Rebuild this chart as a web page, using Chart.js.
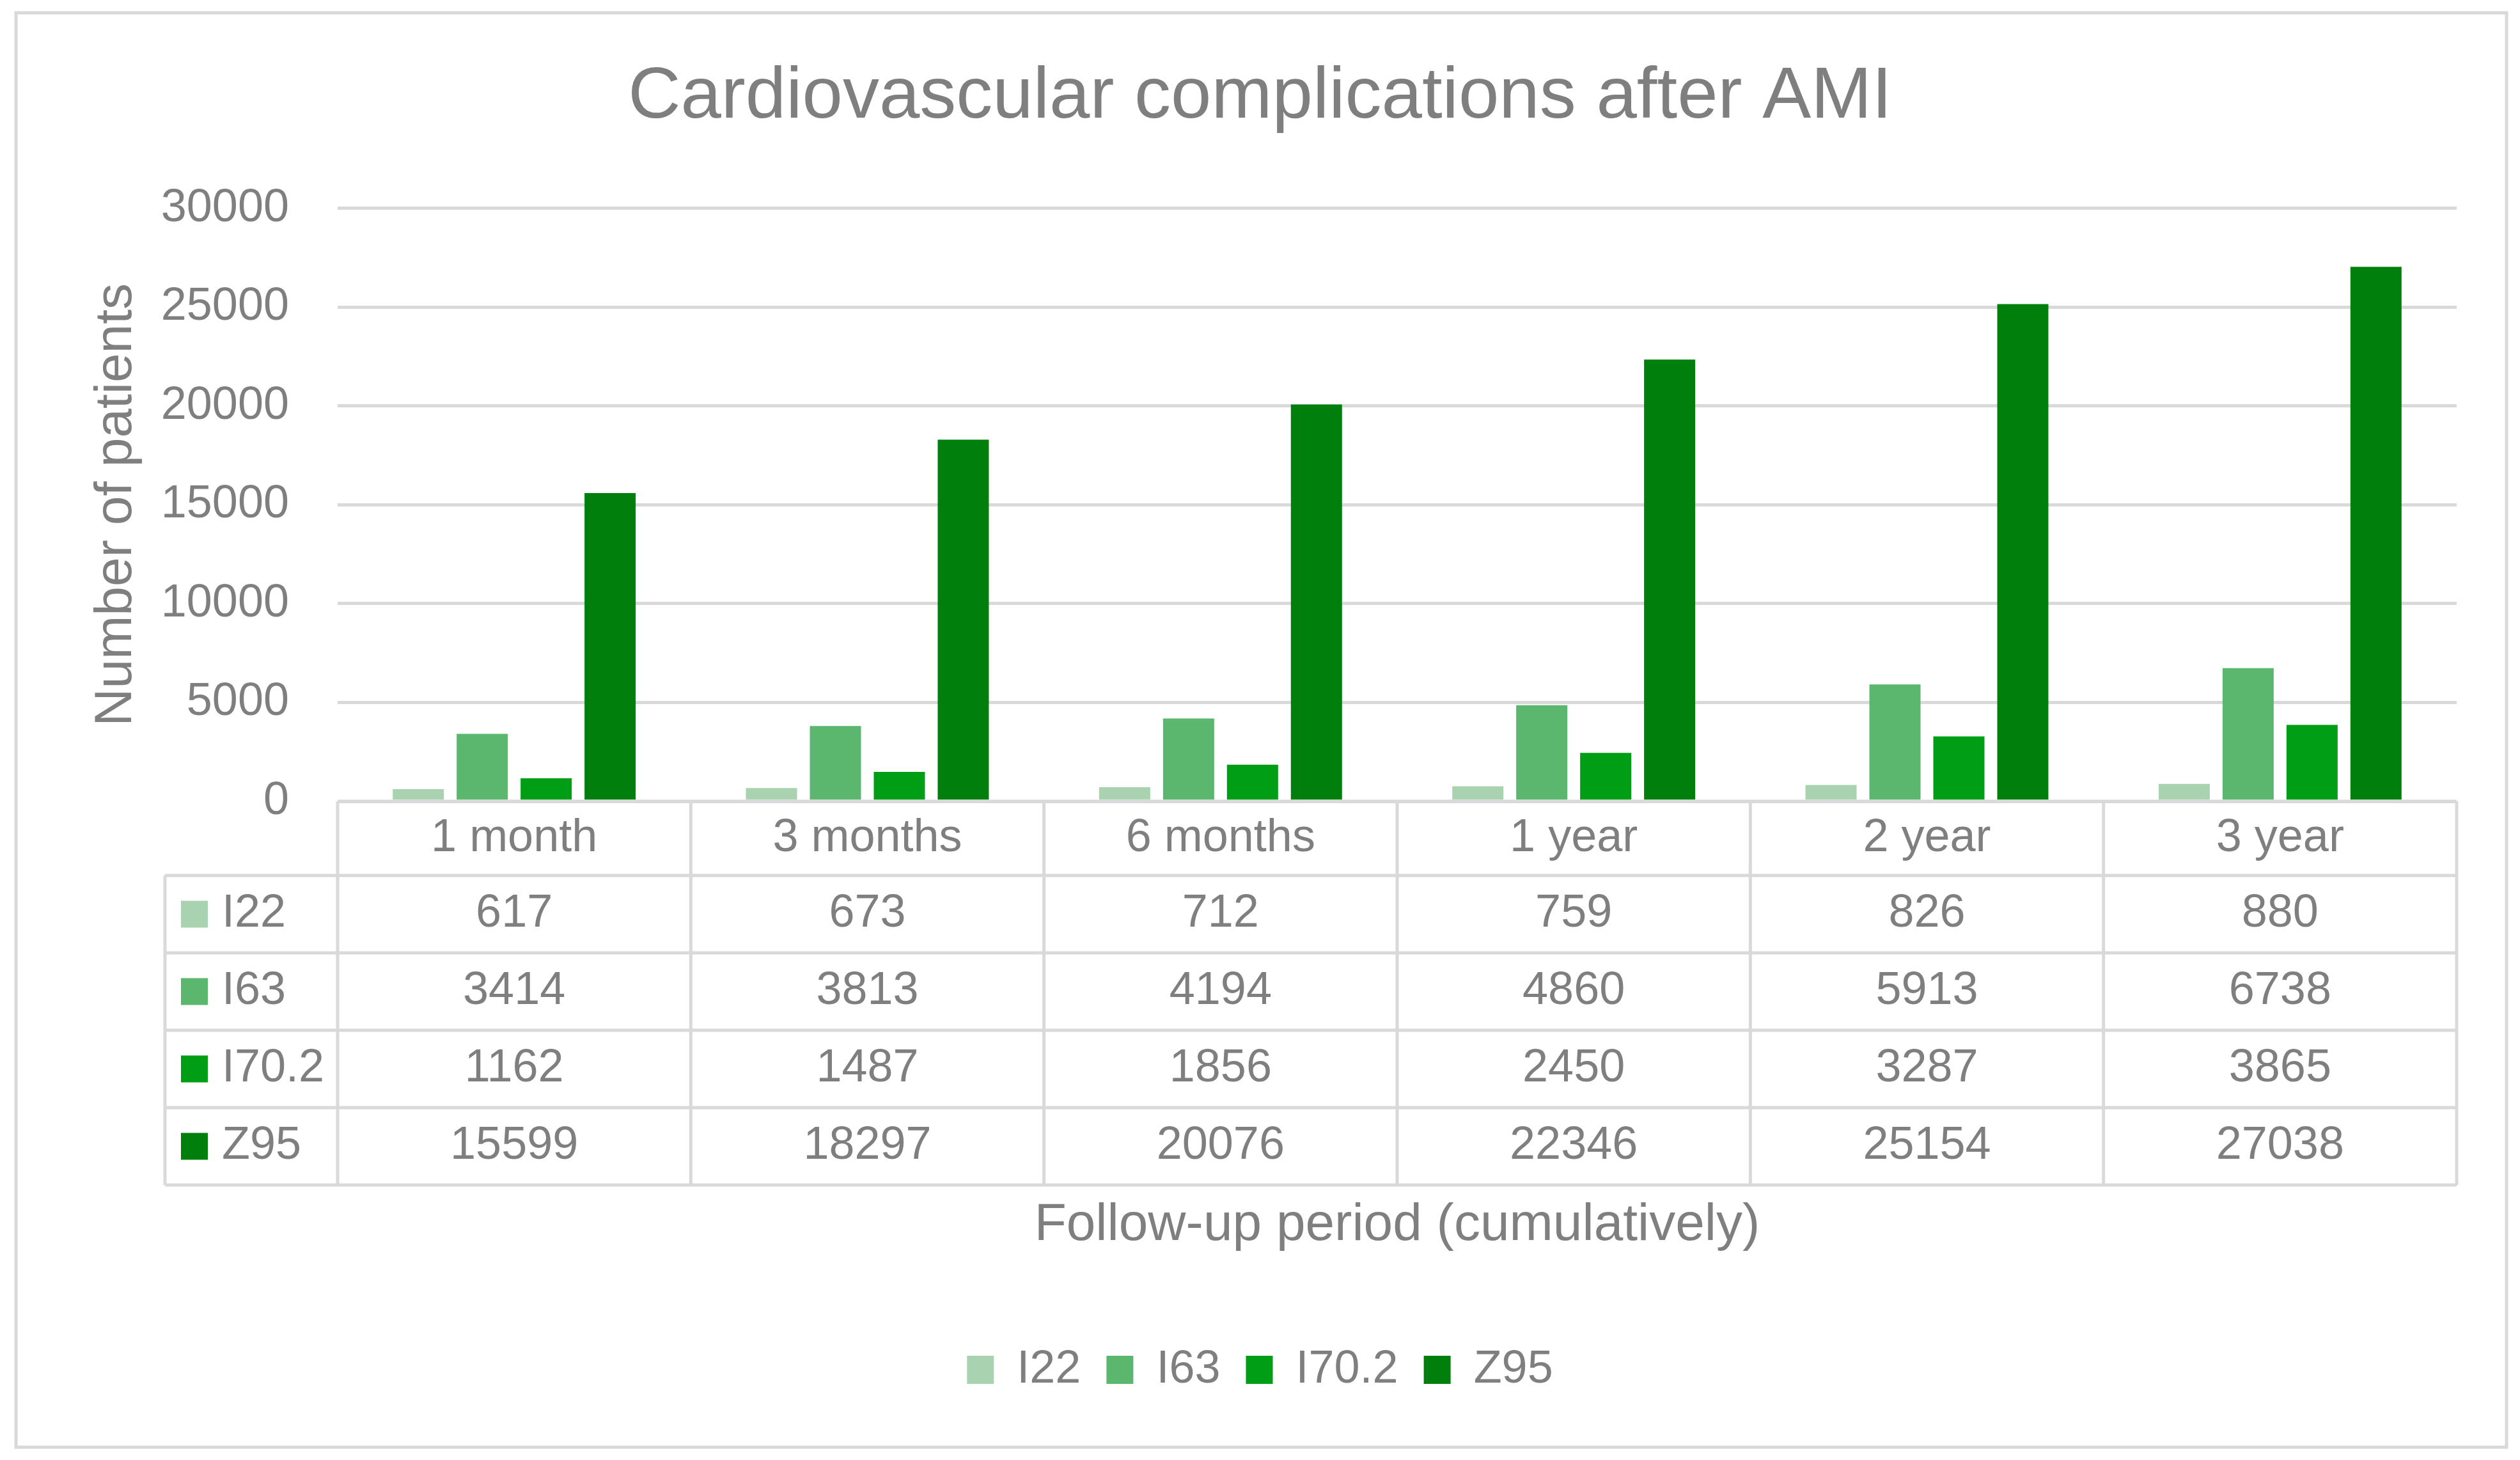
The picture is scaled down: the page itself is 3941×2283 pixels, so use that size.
<!DOCTYPE html>
<html>
<head>
<meta charset="utf-8">
<script src="https://cdn.jsdelivr.net/npm/chart.js@4.4.1/dist/chart.umd.min.js"></script>
<style>
  html, body { margin: 0; padding: 0; background: #fff; }
  #wrap { width: 3941px; height: 2283px; }
</style>
</head>
<body>
<div id="wrap"><canvas id="chart" width="3941" height="2283"></canvas></div>
<script>
const categories = ['1 month', '3 months', '6 months', '1 year', '2 year', '3 year']
const seriesNames = ['I22', 'I63', 'I70.2', 'Z95']
const i22 = [617, 673, 712, 759, 826, 880]
const i63 = [3414, 3813, 4194, 4860, 5913, 6738]
const i702 = [1162, 1487, 1856, 2450, 3287, 3865]
const z95 = [15599, 18297, 20076, 22346, 25154, 27038]
const seriesColors = ['#a9d3b0', '#5cb76e', '#009e15', '#007f0c']

const gray = '#7f7f7f'
const lineGray = '#d9d9d9'
const fontFamily = '"Liberation Sans", Arial, sans-serif'

// table under the plot (rows share the x scale columns)
const tableLeft = 258
const headerH = 116
const rowH = 121

const frame = {
  id: 'frame',
  beforeDraw(chart) {
    const ctx = chart.ctx
    ctx.save()
    ctx.fillStyle = '#fff'
    ctx.fillRect(0, 0, chart.width, chart.height)
    ctx.strokeStyle = lineGray
    ctx.lineWidth = 5
    ctx.strokeRect(25, 20, 3895, 2243)
    ctx.restore()
  }
}

const dataTable = {
  id: 'dataTable',
  afterDraw(chart) {
    const ctx = chart.ctx
    const x = chart.scales.x
    const area = chart.chartArea
    const colW = x.width / categories.length
    const top = area.bottom
    const rowsTop = top + headerH
    const bottom = rowsTop + rowH * seriesNames.length
    ctx.save()
    ctx.strokeStyle = lineGray
    ctx.lineWidth = 5
    ctx.beginPath()
    // horizontal lines
    ctx.moveTo(area.left, top); ctx.lineTo(area.right, top)
    for (let r = 0; r <= seriesNames.length; r++) {
      const y = rowsTop + r * rowH
      ctx.moveTo(tableLeft, y); ctx.lineTo(area.right, y)
    }
    // vertical lines
    ctx.moveTo(tableLeft, rowsTop); ctx.lineTo(tableLeft, bottom)
    for (let c = 0; c <= categories.length; c++) {
      const xx = area.left + c * colW
      ctx.moveTo(xx, top); ctx.lineTo(xx, bottom)
    }
    ctx.stroke()

    ctx.fillStyle = gray
    ctx.font = '72px ' + fontFamily
    ctx.textAlign = 'center'
    ctx.textBaseline = 'middle'
    categories.forEach((c, i) => {
      ctx.fillText(c, x.getPixelForValue(i), top + headerH / 2)
    })
    chart.data.datasets.forEach((ds, r) => {
      const cy = rowsTop + r * rowH + rowH / 2
      ctx.fillStyle = ds.backgroundColor
      ctx.fillRect(tableLeft + 25, cy - 21, 42, 42)
      ctx.fillStyle = gray
      ctx.textAlign = 'left'
      ctx.fillText(ds.label, tableLeft + 89, cy)
      ctx.textAlign = 'center'
      ds.data.forEach((v, i) => {
        ctx.fillText(String(v), x.getPixelForValue(i), cy)
      })
    })
    ctx.restore()
  }
}

new Chart(document.getElementById('chart'), {
  type: 'bar',
  data: {
    labels: categories,
    datasets: [i22, i63, i702, z95].map((d, i) => ({
      label: seriesNames[i],
      data: d,
      backgroundColor: seriesColors[i],
      borderWidth: 0,
      categoryPercentage: 0.724,
      barPercentage: 0.8
    }))
  },
  options: {
    responsive: false,
    devicePixelRatio: 1,
    animation: false,
    layout: { padding: { left: 99, right: 99, top: 30, bottom: 95 } },
    plugins: {
      title: {
        display: true,
        text: 'Cardiovascular complications after AMI',
        color: gray,
        font: { family: fontFamily, size: 114, weight: 'normal' },
        padding: { top: 54, bottom: 105 }
      },
      legend: {
        position: 'bottom',
        labels: {
          color: gray,
          font: { family: fontFamily, size: 72 },
          boxWidth: 42,
          boxHeight: 44,
          padding: 40
        }
      },
      tooltip: { enabled: false }
    },
    scales: {
      x: {
        grid: { display: false },
        border: { display: false },
        ticks: { display: false },
        title: {
          display: true,
          text: 'Follow-up period (cumulatively)',
          color: gray,
          font: { family: fontFamily, size: 82 },
          padding: { top: 0, bottom: 100 }
        },
        afterFit(scale) { scale.height = 813 }
      },
      y: {
        min: 0,
        max: 30000,
        ticks: {
          stepSize: 5000,
          color: gray,
          padding: 76,
          font: { family: fontFamily, size: 72 },
          callback: v => String(v)
        },
        grid: { color: lineGray, lineWidth: 5, drawTicks: false },
        border: { display: false },
        title: {
          display: true,
          text: 'Number of patients',
          color: gray,
          font: { family: fontFamily, size: 82 },
          padding: { top: 34, bottom: 0 }
        },
        afterFit(scale) { scale.width = 429 }
      }
    }
  },
  plugins: [frame, dataTable]
})
</script>
</body>
</html>
